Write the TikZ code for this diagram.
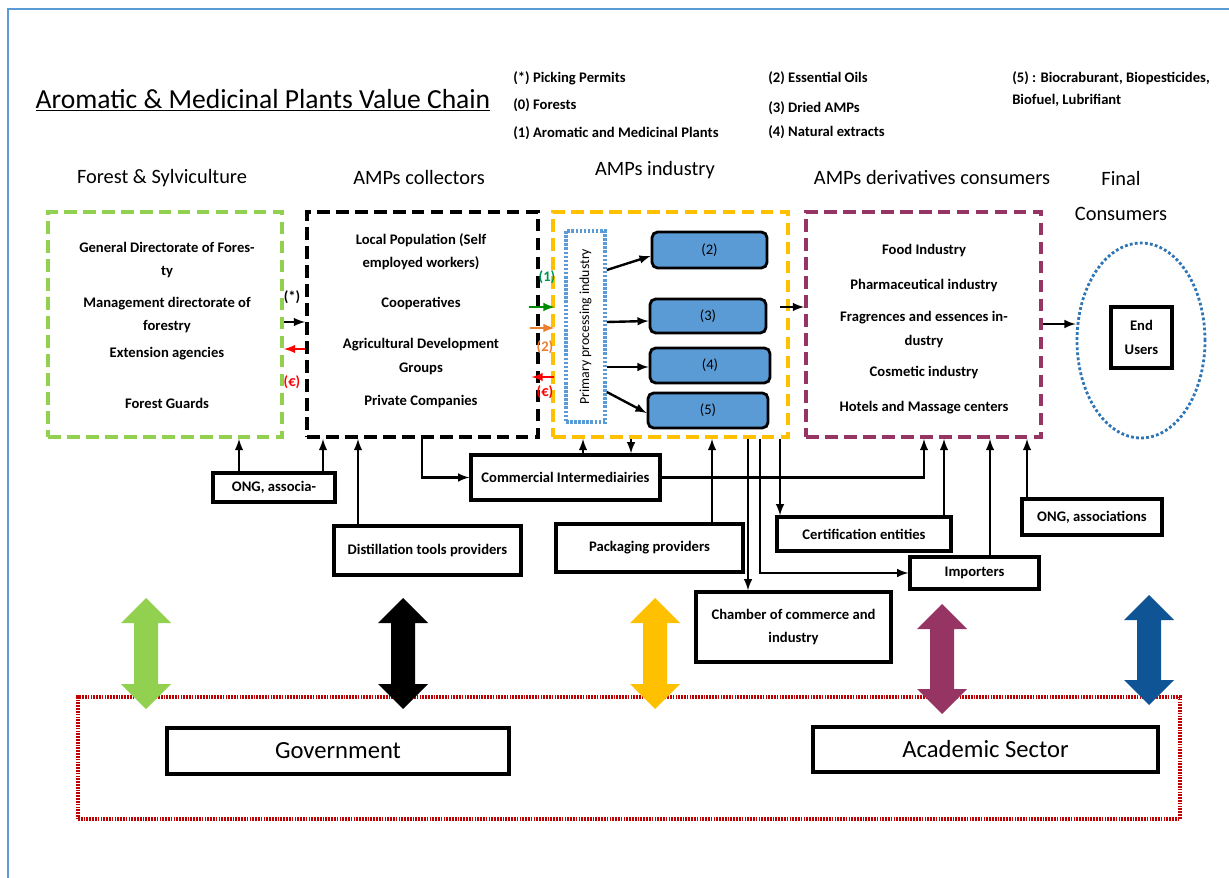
\documentclass[tikz,border=0pt]{standalone}
\usepackage{fontspec}
\setmainfont{Carlito}
\usepackage{graphicx}
\usepackage{tikz}
\usetikzlibrary{shapes.geometric}
\newdimen\pxu
\pxu=0.025cm
\newcommand{\boxfont}{\bfseries\fontsize{10.4}{16.5}\selectfont}
\definecolor{leafgreen}{RGB}{146,208,80}
\definecolor{amber}{RGB}{255,192,0}
\definecolor{plum}{RGB}{150,52,100}
\definecolor{navy}{RGB}{15,85,150}
\definecolor{skyblue}{RGB}{91,155,213}
\definecolor{dotblue}{RGB}{46,117,182}
\definecolor{darkred}{RGB}{192,0,0}
\definecolor{flowgreen}{RGB}{0,140,0}
\definecolor{tealgreen}{RGB}{0,150,80}
\definecolor{flame}{RGB}{237,125,49}
\tikzstyle{arr}  = [-latex, line width=1.7pt]
\tikzstyle{dbox} = [draw, line width=2.8pt, dash pattern=on 9pt off 4.5pt, minimum width=234\pxu, minimum height=225\pxu, inner sep=0pt]
\tikzstyle{itm}  = [align=center, font=\boxfont]
\tikzstyle{sbox} = [draw, line width=2.4pt, fill=white, align=center, font=\boxfont, inner sep=0pt]
\tikzstyle{prod} = [draw, line width=2pt, rounded corners=4pt, fill=skyblue, font=\fontsize{10.4}{12}\selectfont, inner sep=0pt]
\tikzstyle{colhead} = [font=\fontsize{14.5}{25.5}\selectfont, align=center]
\tikzstyle{leg}  = [anchor=west, font=\boxfont, inner sep=0pt]

\begin{document}
\begin{tikzpicture}[x=0.025cm, y=-0.025cm]
    \useasboundingbox (0,0) rectangle (1229,878);
    \draw[skyblue, line width=2pt] (8,878) -- (8,9) -- (1229,9);

    % title and legend
    \node[font=\fontsize{19.6}{22}\selectfont] (title) at (263,100) {\underline{Aromatic \& Medicinal Plants Value Chain}};
    \node[leg] (lg1) at (513,78) {(*) Picking Permits};
    \node[leg] (lg2) at (513,105) {(0) Forests};
    \node[leg] (lg3) at (513,133) {(1) Aromatic and Medicinal Plants};
    \node[leg] (lg4) at (768,78) {(2) Essential Oils};
    \node[leg] (lg5) at (768,108) {(3) Dried AMPs};
    \node[leg] (lg6) at (768,132) {(4) Natural extracts};
    \node[leg] (lg7) at (1012,78) {(5) : Biocraburant, Biopesticides,};
    \node[leg] (lg8) at (1012,100) {Biofuel, Lubrifiant};

    \node[colhead] (hforest) at (162,178) {Forest \& Sylviculture};
    \node[colhead] (hcoll) at (419,178) {AMPs collectors};
    \node[colhead] (hind) at (655,170) {AMPs industry};
    \node[colhead] (hderiv) at (932,178) {AMPs derivatives consumers};
    \node[colhead] (hfinal) at (1121,196) {Final\\Consumers};

    % the four chain links
    \node[dbox, draw=leafgreen] (forest) at (165,324.5) {};
    \node[dbox, draw=black, minimum width=231\pxu] (coll) at (422.5,324.5) {};
    \node[dbox, draw=amber, minimum width=235\pxu] (ind) at (670.5,324.5) {};
    \node[dbox, draw=plum, minimum width=235\pxu] (deriv) at (923.5,324.5) {};

    \node[itm] (f1) at (167,260) {General Directorate of Fores-\\ty};
    \node[itm] (f2) at (167,315) {Management directorate of\\forestry};
    \node[itm] (f3) at (167,354) {Extension agencies};
    \node[itm] (f4) at (167,403) {Forest Guards};

    \node[itm] (c1) at (421,251.5) {Local Population (Self\\employed workers)};
    \node[itm] (c2) at (421,304) {Cooperatives};
    \node[itm] (c3) at (421,356.5) {Agricultural Development\\Groups};
    \node[itm] (c4) at (421,402) {Private Companies};

    \node[itm] (d1) at (924,251) {Food Industry};
    \node[itm] (d2) at (924,286) {Pharmaceutical industry};
    \node[itm] (d3) at (924,329.5) {Fragrences and essences in-\\dustry};
    \node[itm] (d4) at (924,373) {Cosmetic industry};
    \node[itm] (d5) at (924,408) {Hotels and Massage centers};

    \node[draw=skyblue, line width=2.6pt, dash pattern=on 1.8pt off 1.1pt, minimum width=39\pxu, minimum height=191\pxu, inner sep=0pt,
          font=\fontsize{9.8}{11}\selectfont] (prim) at (585.5,326.5) {\rotatebox{90}{Primary processing industry}};
    \node[prod, minimum width=115\pxu, minimum height=36\pxu] (p2) at (709.5,250) {(2)};
    \node[prod, minimum width=116\pxu, minimum height=34\pxu] (p3) at (708,316) {(3)};
    \node[prod, minimum width=120\pxu, minimum height=35\pxu] (p4) at (710,365.5) {(4)};
    \node[prod, minimum width=120\pxu, minimum height=35\pxu] (p5) at (708,410.5) {(5)};
    \draw[arr] (prim.east |- 0,270) -- (p2.west |- 0,256);
    \draw[arr] (prim.east |- 0,322) -- (p3.west |- 0,321);
    \draw[arr] (prim.east |- 0,367) -- (p4.west |- 0,367);
    \draw[arr] (prim.east |- 0,392) -- (p5.west |- 0,413);

    \node[draw=dotblue, line width=2pt, dash pattern=on 2pt off 1.6pt, ellipse, minimum width=128\pxu, minimum height=195\pxu, inner sep=0pt] (ell) at (1141,340.5) {};
    \node[sbox, minimum width=61\pxu, minimum height=61\pxu] (endu) at (1141.5,337.5) {End\\Users};

    % flows along the chain
    \draw[arr] (forest.east |- 0,322) -- (coll.west |- 0,322);
    \draw[arr, red] (coll.west |- 0,349) -- (forest.east |- 0,349);
    \node[itm] (lstar) at (292,297) {(*)};
    \node[itm, red] (leuroA) at (292,382) {(€)};
    \draw[arr, flowgreen, shorten <=-8pt, shorten >=-2.5pt] (coll.east |- 0,307) -- (ind.west |- 0,307);
    \draw[arr, flame, shorten <=-7pt, shorten >=-2.5pt] (coll.east |- 0,328) -- (ind.west |- 0,328);
    \draw[arr, red, shorten <=-2pt, shorten >=-6pt] (ind.west |- 0,377) -- (coll.east |- 0,377);
    \node[itm, tealgreen] (lone) at (547,277) {(1)};
    \node[itm, flame] (ltwo) at (545,347) {(2)};
    \node[itm, red] (leuroB) at (545,392) {(€)};
    \draw[arr, shorten <=-7pt] (ind.east |- 0,307) -- (deriv.west |- 0,307);
    \draw[arr] (deriv.east |- 0,324) -- (ell.west |- 0,324);

    % supporting actors
    \node[sbox, minimum width=122\pxu, minimum height=29\pxu] (onga) at (274,487.5) {ONG, associa-};
    \node[sbox, minimum width=189\pxu, minimum height=45\pxu] (ci) at (565.5,477.5) {Commercial Intermediairies};
    \node[sbox, minimum width=187\pxu, minimum height=49\pxu] (dist) at (427.5,550.5) {Distillation tools providers};
    \node[sbox, minimum width=187\pxu, minimum height=48\pxu] (pack) at (649.5,548) {Packaging providers};
    \node[sbox, minimum width=174\pxu, minimum height=34\pxu] (cert) at (864,534) {Certification entities};
    \node[sbox, minimum width=140\pxu, minimum height=36\pxu] (ongb) at (1092,517) {ONG, associations};
    \node[sbox, minimum width=129\pxu, minimum height=32\pxu] (imp) at (974.5,573) {Importers};
    \node[sbox, minimum width=195\pxu, minimum height=70\pxu] (cham) at (793.5,627) {Chamber of commerce and\\industry};

    \draw[arr] (239,0 |- onga.north) -- (239,0 |- forest.south);
    \draw[arr] (323,0 |- onga.north) -- (323,0 |- coll.south);
    \draw[arr] (358,0 |- dist.north) -- (358,0 |- coll.south);
    \draw[arr] (422,0 |- coll.south) |- (ci.west);
    \draw[arr] (583,0 |- ci.north) -- (583,0 |- ind.south);
    \draw[arr] (631,0 |- ind.south) -- (631,0 |- ci.north);
    \draw[arr] (712,0 |- pack.north) -- (712,0 |- ind.south);
    \draw[arr] (ci.east) -| (924,0 |- deriv.south);
    \draw[arr] (748,0 |- ind.south) -- (748,0 |- cham.north);
    \draw[arr] (760,0 |- ind.south) |- (imp.west);
    \draw[arr] (780,0 |- ind.south) -- (780,0 |- cert.north);
    \draw[arr] (944,0 |- cert.north) -- (944,0 |- deriv.south);
    \draw[arr] (990,0 |- imp.north) -- (990,0 |- deriv.south);
    \draw[arr] (1027,0 |- ongb.north) -- (1027,0 |- deriv.south);

    % government and academia
    \node[draw=darkred, line width=2.6pt, dash pattern=on 1.2pt off 0.8pt, minimum width=1102\pxu, minimum height=122\pxu, inner sep=0pt] (support) at (629,758) {};
    \node[sbox, minimum width=342\pxu, minimum height=46\pxu, font=\fontsize{17.5}{20}\selectfont] (gov) at (338,751) {Government};
    \node[sbox, minimum width=345\pxu, minimum height=45\pxu, font=\fontsize{17.5}{20}\selectfont] (acad) at (985.5,749.5) {Academic Sector};

    \foreach \cx/\yt/\yb/\col in {146/598/709/leafgreen, 403/598/709/black, 655/598/709/amber, 942/604/714/plum, 1149/595/705/navy}
    {
        \fill[\col] (\cx,\yt) -- (\cx+25,\yt+25) -- (\cx+12,\yt+25) -- (\cx+12,\yb-25) -- (\cx+25,\yb-25) -- (\cx,\yb)
            -- (\cx-25,\yb-25) -- (\cx-12,\yb-25) -- (\cx-12,\yt+25) -- (\cx-25,\yt+25) -- cycle;
    }
\end{tikzpicture}
\end{document}
